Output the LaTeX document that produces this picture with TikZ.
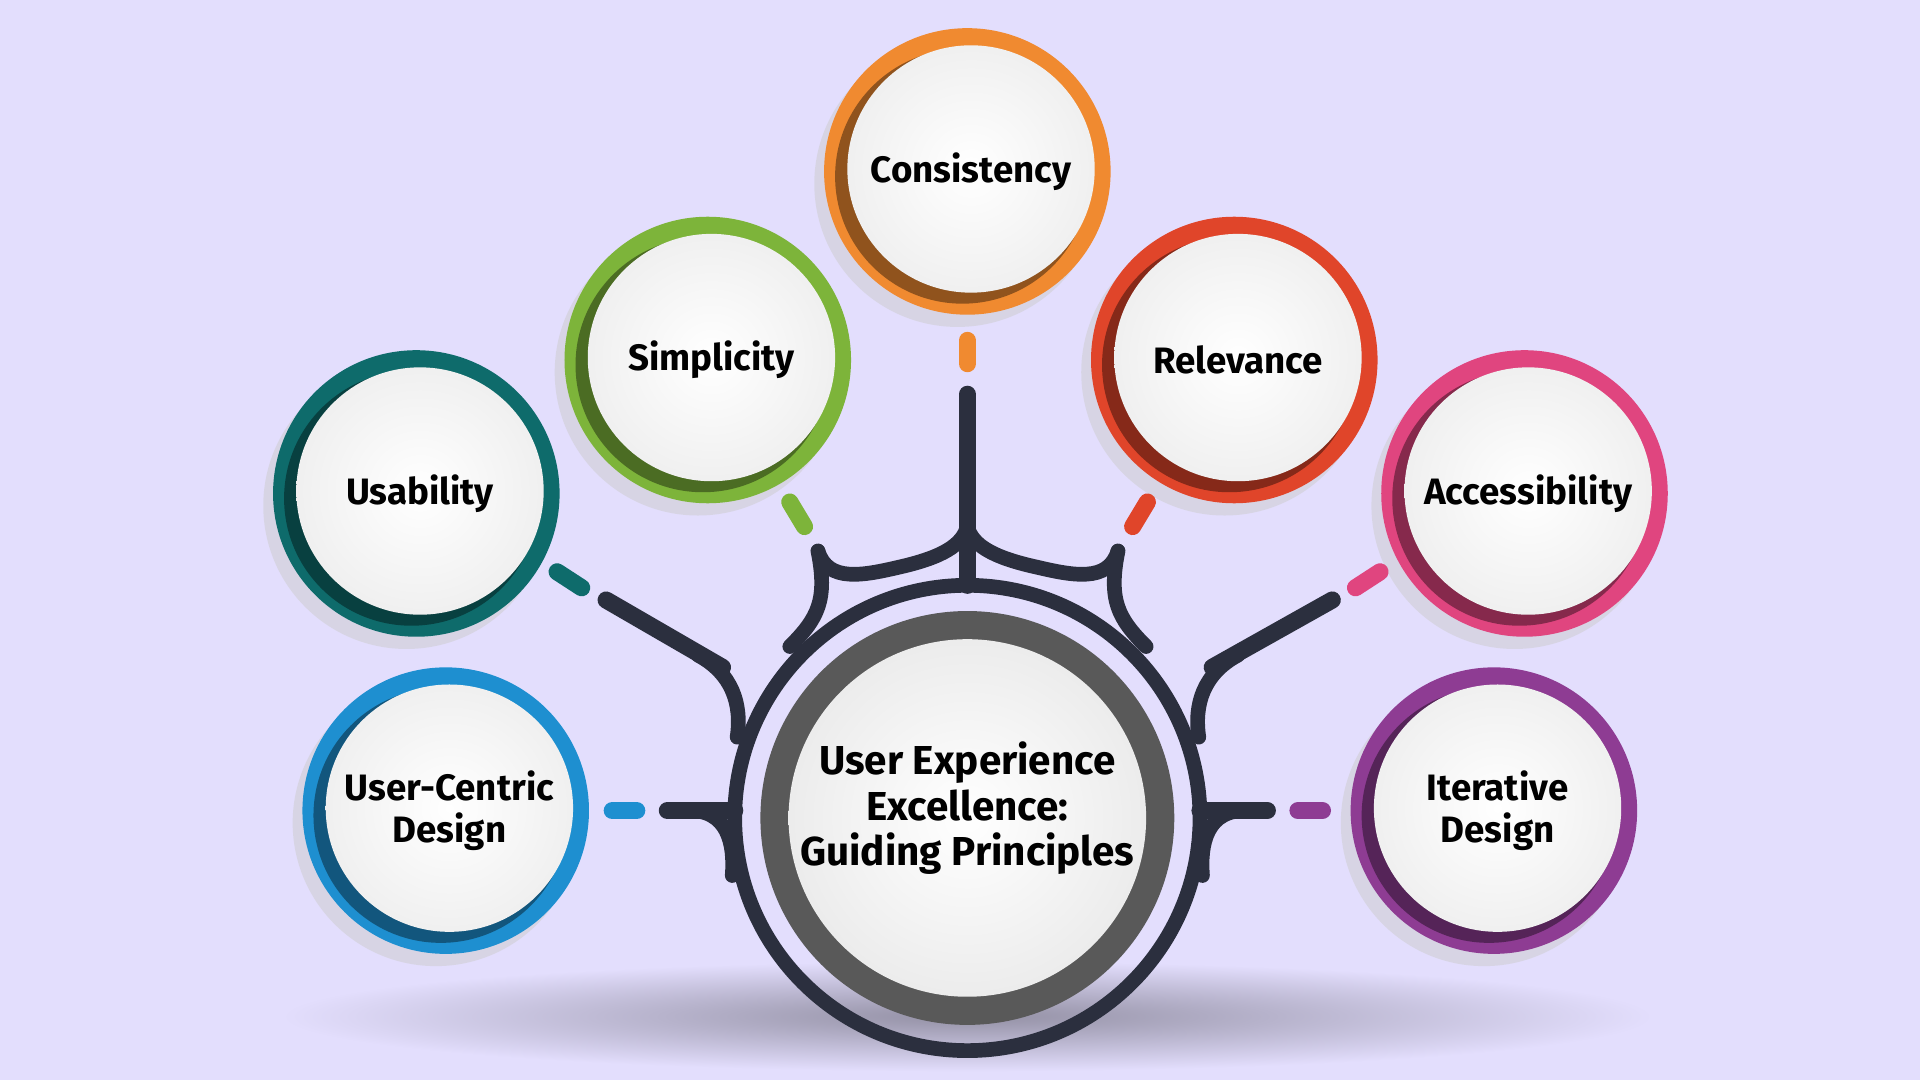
\documentclass[tikz,border=0pt]{standalone}
\usepackage{fontspec}
\setmainfont{Fira Sans}
\begin{document}
\begin{tikzpicture}[x=0.5pt,y=-0.5pt,
  dark/.style={draw=darkc,line width=7pt,line cap=round},
  fil/.style={draw=darkc,line width=6pt,line cap=round},
  cdash/.style={line width=7pt,line cap=round},
  lbl/.style={font=\bfseries\fontsize{15}{17}\selectfont,align=center,text=black}]
\definecolor{bg}{HTML}{E3DEFD}
\definecolor{darkc}{HTML}{2B2F3E}
\definecolor{corange}{HTML}{F08A30}
\definecolor{cgreen}{HTML}{7DB43A}
\definecolor{cred}{HTML}{E0452A}
\definecolor{cteal}{HTML}{0E6B6B}
\definecolor{cpink}{HTML}{E0457F}
\definecolor{cblue}{HTML}{1E8FD0}
\definecolor{cpurple}{HTML}{8E3C93}
\fill[bg] (0,0) rectangle (1568,882);
\useasboundingbox (0,0) rectangle (1568,882);
% floor shadow
\shade[inner color=black!35!bg,outer color=bg] (790,830) ellipse (560 and 45);
% dark connector structure
\coordinate (c) at (790,668);
\draw[darkc,line width=6pt] (c) circle (190);
\draw[dark] (790,322) -- (790,478);
\draw[dark] (495,490) -- (590,545);
\draw[dark] (1088,490) -- (990,545);
\draw[dark] (545,662) -- (600,662);
\draw[dark] (1035,662) -- (980,662);
\draw[fil] (668,450) .. controls (676,476) and (705,470) .. (735,463) .. controls (770,455) and (786,445) .. (790,430);
\draw[fil] (913,450) .. controls (905,476) and (876,470) .. (846,463) .. controls (810,455) and (794,445) .. (790,430);
\draw[fil] (668,450) .. controls (676,490) and (668,505) .. (645,528);
\draw[fil] (913,450) .. controls (905,490) and (913,505) .. (936,528);
\draw[fil] (570,535) .. controls (598,550) and (606,575) .. (602,602);
\draw[fil] (1011,535) .. controls (983,550) and (975,575) .. (979,602);
\draw[fil] (560,662) .. controls (595,660) and (600,690) .. (598,715);
\draw[fil] (1020,662) .. controls (985,660) and (980,690) .. (982,715);
% central circle
\draw[gray!70!black,line width=14pt] (c) circle (155);
\shade[inner color=white,outer color=gray!15] (c) circle (146);
\node[lbl,font=\bfseries\fontsize{16.5}{18.5}\selectfont] (center) at (790,660) {User Experience\\Excellence:\\Guiding Principles};
% satellites
\foreach \n/\x/\y/\col/\t in {cons/790/140/corange/Consistency,simp/578/294/cgreen/Simplicity,rel/1008/294/cred/Relevance,usa/340/403/cteal/Usability,acc/1245/403/cpink/Accessibility,ucd/364/662/cblue/{User-Centric\\Design},itd/1220/662/cpurple/{Iterative\\Design}}{
  \fill[black!20,opacity=0.5] (\x-8,\y+10) circle (117);
  \fill[\col] (\x,\y) circle (117);
  \fill[\col!60!black] (\x-4,\y+4) circle (104);
  \shade[inner color=white,outer color=gray!12] (\x+3,\y-2) circle (101);
  \node[lbl] (\n) at (\x+3,\y) {\t};
}
% coloured dashes
\draw[cdash,corange] (790,278) -- (790,297);
\draw[cdash,cgreen] (645,410) -- (657,430);
\draw[cdash,cred] (937,410) -- (925,430);
\draw[cdash,cteal] (455,467) -- (475,480);
\draw[cdash,cpink] (1127,467) -- (1107,480);
\draw[cdash,cblue] (500,662) -- (520,662);
\draw[cdash,cpurple] (1060,662) -- (1080,662);
\end{tikzpicture}
\end{document}
